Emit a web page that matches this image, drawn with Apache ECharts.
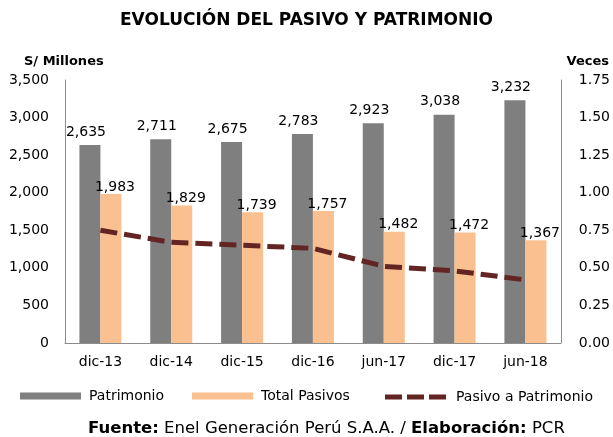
<!DOCTYPE html>
<html>
<head>
<meta charset="utf-8">
<script src="https://cdn.jsdelivr.net/npm/echarts@6/dist/echarts.min.js"></script>
<style>
    html, body { margin: 0; padding: 0; background: #fff; }
    #chartMain { width: 613px; height: 437px; }
</style>
</head>
<body>
<div id="chartMain"></div>
<script>
    // datos
    let categorias = ['dic-13', 'dic-14', 'dic-15', 'dic-16', 'jun-17', 'dic-17', 'jun-18'];
    let patrimonio = [2635, 2711, 2675, 2783, 2923, 3038, 3232];
    let totalPasivos = [1983, 1829, 1739, 1757, 1482, 1472, 1367];
    let pasivoPatrimonio = [0.75, 0.67, 0.65, 0.63, 0.51, 0.48, 0.42];

    let fuente = '"DejaVu Sans", sans-serif';
    let fmtMiles = (v) => Number(v).toLocaleString('en-US');
    let iconGuiones = 'path://M0,0h17v5h-17z M22,0h17v5h-17z M44,0h17v5h-17z';

    let legendaBase = {
        top: 389, padding: 0,
        itemWidth: 61, itemHeight: 7,
        textStyle: { fontSize: 14, color: '#000', fontFamily: fuente, padding: [0, 0, 0, 3] }
    };

    let myChart = echarts.init(document.getElementById('chartMain'));
    myChart.setOption({
        animation: false,
        textStyle: { fontFamily: fuente },
        title: [
            {
                text: 'EVOLUCIÓN DEL PASIVO Y PATRIMONIO',
                left: 'center', top: 12, padding: 0,
                textStyle: { fontSize: 17, fontWeight: 'bold', color: '#000', fontFamily: fuente }
            },
            {
                text: 'S/ Millones',
                left: 24, top: 55, padding: 0,
                textStyle: { fontSize: 13, fontWeight: 'bold', color: '#000', fontFamily: fuente }
            },
            {
                text: 'Veces',
                right: 4, top: 55, padding: 0,
                textStyle: { fontSize: 13, fontWeight: 'bold', color: '#000', fontFamily: fuente }
            }
        ],
        graphic: [{
            type: 'text',
            left: 88, top: 420,
            style: {
                rich: {
                    b: { fontWeight: 'bold', fontSize: 16.5, fontFamily: fuente, fill: '#000' },
                    n: { fontSize: 16.5, fontFamily: fuente, fill: '#000' }
                },
                text: '{b|Fuente:}{n| Enel Generación Perú S.A.A. / }{b|Elaboración:}{n| PCR}'
            }
        }],
        legend: [
            Object.assign({}, legendaBase, { left: 20, data: [{ name: 'Patrimonio', icon: 'rect' }] }),
            Object.assign({}, legendaBase, { left: 192, data: [{ name: 'Total Pasivos', icon: 'rect' }] }),
            Object.assign({}, legendaBase, {
                left: 385, top: 390, itemHeight: 5,
                textStyle: { fontSize: 14, color: '#000', fontFamily: fuente, padding: [0, 0, 0, 5] },
                data: [{ name: 'Pasivo a Patrimonio', icon: iconGuiones }]
            })
        ],
        grid: { left: 65, right: 51, top: 80, bottom: 94 },
        xAxis: {
            type: 'category',
            data: categorias,
            axisLine: { lineStyle: { color: '#8c8c8c' } },
            axisTick: { show: false },
            axisLabel: { color: '#000', fontSize: 14, margin: 12 }
        },
        yAxis: [
            {
                type: 'value', min: 0, max: 3500, interval: 500,
                splitLine: { show: false },
                axisLine: { show: true, lineStyle: { color: '#8c8c8c' } },
                axisTick: { show: false },
                axisLabel: { color: '#000', fontSize: 14, margin: 16, formatter: fmtMiles }
            },
            {
                type: 'value', min: 0, max: 1.75, interval: 0.25,
                splitLine: { show: false },
                axisLine: { show: true, lineStyle: { color: '#8c8c8c' } },
                axisTick: { show: false },
                axisLabel: { color: '#000', fontSize: 14, margin: 18, formatter: (v) => v.toFixed(2) }
            }
        ],
        series: [
            {
                name: 'Patrimonio',
                type: 'bar',
                barWidth: 21,
                barGap: '0%',
                itemStyle: { color: '#7f7f7f' },
                label: {
                    show: true, position: 'top', distance: 6, offset: [-4, 0],
                    color: '#000', fontSize: 14, formatter: (p) => fmtMiles(p.value)
                },
                data: patrimonio
            },
            {
                name: 'Total Pasivos',
                type: 'bar',
                barWidth: 21,
                itemStyle: { color: '#fac090' },
                label: {
                    show: true, position: 'top', distance: 0, offset: [4, 0],
                    color: '#000', fontSize: 14, formatter: (p) => fmtMiles(p.value)
                },
                data: totalPasivos
            },
            {
                name: 'Pasivo a Patrimonio',
                type: 'line',
                yAxisIndex: 1,
                symbol: 'none',
                itemStyle: { color: '#632523' },
                lineStyle: { color: '#632523', width: 5, type: [17, 7] },
                data: pasivoPatrimonio
            }
        ]
    });
</script>
</body>
</html>
